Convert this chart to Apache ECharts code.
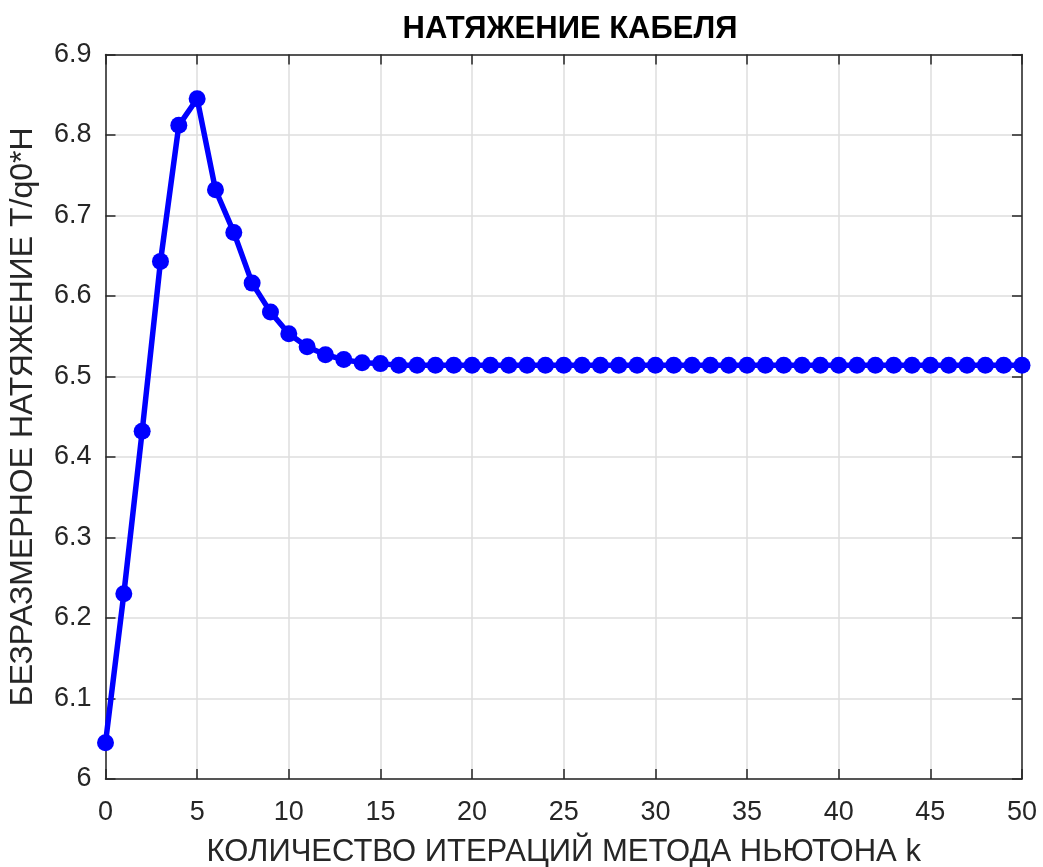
<!DOCTYPE html>
<html>
<head>
<meta charset="utf-8">
<script src="https://cdn.jsdelivr.net/npm/echarts@6/dist/echarts.min.js"></script>
<style>html,body{margin:0;padding:0;background:#fff}#c{width:1043px;height:867px}</style>
</head>
<body>
<div id="c"></div>
<script>
const iterations = [0,1,2,3,4,5,6,7,8,9,10,11,12,13,14,15,16,17,18,19,20,21,22,23,24,25,26,27,28,29,30,31,32,33,34,35,36,37,38,39,40,41,42,43,44,45,46,47,48,49,50];
const tension = [6.045,6.230,6.432,6.643,6.812,6.845,6.732,6.679,6.616,6.580,6.553,6.537,6.527,6.521,6.517,6.516,6.514,6.514,6.514,6.514,6.514,6.514,6.514,6.514,6.514,6.514,6.514,6.514,6.514,6.514,6.514,6.514,6.514,6.514,6.514,6.514,6.514,6.514,6.514,6.514,6.514,6.514,6.514,6.514,6.514,6.514,6.514,6.514,6.514,6.514,6.514];
const xTicks = [0,5,10,15,20,25,30,35,40,45,50];
const yTicks = [6,6.1,6.2,6.3,6.4,6.5,6.6,6.7,6.8,6.9];
const titleText = 'НАТЯЖЕНИЕ КАБЕЛЯ';
const xName = 'КОЛИЧЕСТВО ИТЕРАЦИЙ МЕТОДА НЬЮТОНА k';
const yName = 'БЕЗРАЗМЕРНОЕ НАТЯЖЕНИЕ T/q0*H';

const FONT = '"Liberation Sans", Arial, sans-serif';
const axisCol = '#262626';
const chart = echarts.init(document.getElementById('c'), null, {renderer:'canvas'});
const boxAxis = {
  axisLine:{show:true, lineStyle:{color:axisCol, width:1.5}},
  axisTick:{show:true, inside:true, length:10, lineStyle:{color:axisCol, width:1.5}},
  axisLabel:{show:false},
  splitLine:{show:false}
};
chart.setOption({
  animation:false,
  backgroundColor:'#fff',
  title:{text:titleText, left:565, top:9, textAlign:'center',
    textStyle:{fontFamily:FONT, fontWeight:'bold', fontSize:31, color:'#000'}},
  grid:{left:105.5, right:21, top:54.5, bottom:88, containLabel:false, outerBoundsMode:'none'},
  xAxis:[{
    type:'value', min:0, max:50, interval:5, position:'bottom',
    name:xName, nameLocation:'middle', nameGap:58,
    nameTextStyle:{fontFamily:FONT, fontSize:31, color:axisCol},
    axisLine:{show:true, onZero:false, lineStyle:{color:axisCol, width:1.5}},
    axisTick:{show:true, inside:true, length:10, lineStyle:{color:axisCol, width:1.5}},
    axisLabel:{fontFamily:FONT, fontSize:27, color:axisCol, margin:20,
      formatter:v=>xTicks.includes(v)?String(v):''},
    splitLine:{show:true, lineStyle:{color:'#dedede', width:1.5}}
  },{
    type:'value', min:0, max:50, interval:5, position:'top', ...boxAxis,
    axisLine:{show:true, onZero:false, lineStyle:{color:axisCol, width:1.5}}
  }],
  yAxis:[{
    type:'value', min:6, max:6.9, interval:0.1, position:'left',
    name:yName, nameLocation:'middle', nameGap:66, nameRotate:90,
    nameTextStyle:{fontFamily:FONT, fontSize:32, color:axisCol},
    axisLine:{show:true, onZero:false, lineStyle:{color:axisCol, width:1.5}},
    axisTick:{show:true, inside:true, length:10, lineStyle:{color:axisCol, width:1.5}},
    axisLabel:{fontFamily:FONT, fontSize:27, color:axisCol, margin:14, padding:[6,0,0,0],
      formatter:v=>{const r=Math.round(v*10)/10; return yTicks.includes(r)?String(r):'';}},
    splitLine:{show:true, lineStyle:{color:'#dedede', width:1.5}}
  },{
    type:'value', min:6, max:6.9, interval:0.1, position:'right', ...boxAxis,
    axisLine:{show:true, onZero:false, lineStyle:{color:axisCol, width:1.5}}
  }],
  series:[{
    type:'line',
    data:iterations.map((k,i)=>[k,tension[i]]),
    lineStyle:{color:'#0000ff', width:5.5},
    itemStyle:{color:'#0000ff'},
    symbol:'circle', symbolSize:17, showSymbol:true,
    clip:false
  }]
});
</script>
</body>
</html>
